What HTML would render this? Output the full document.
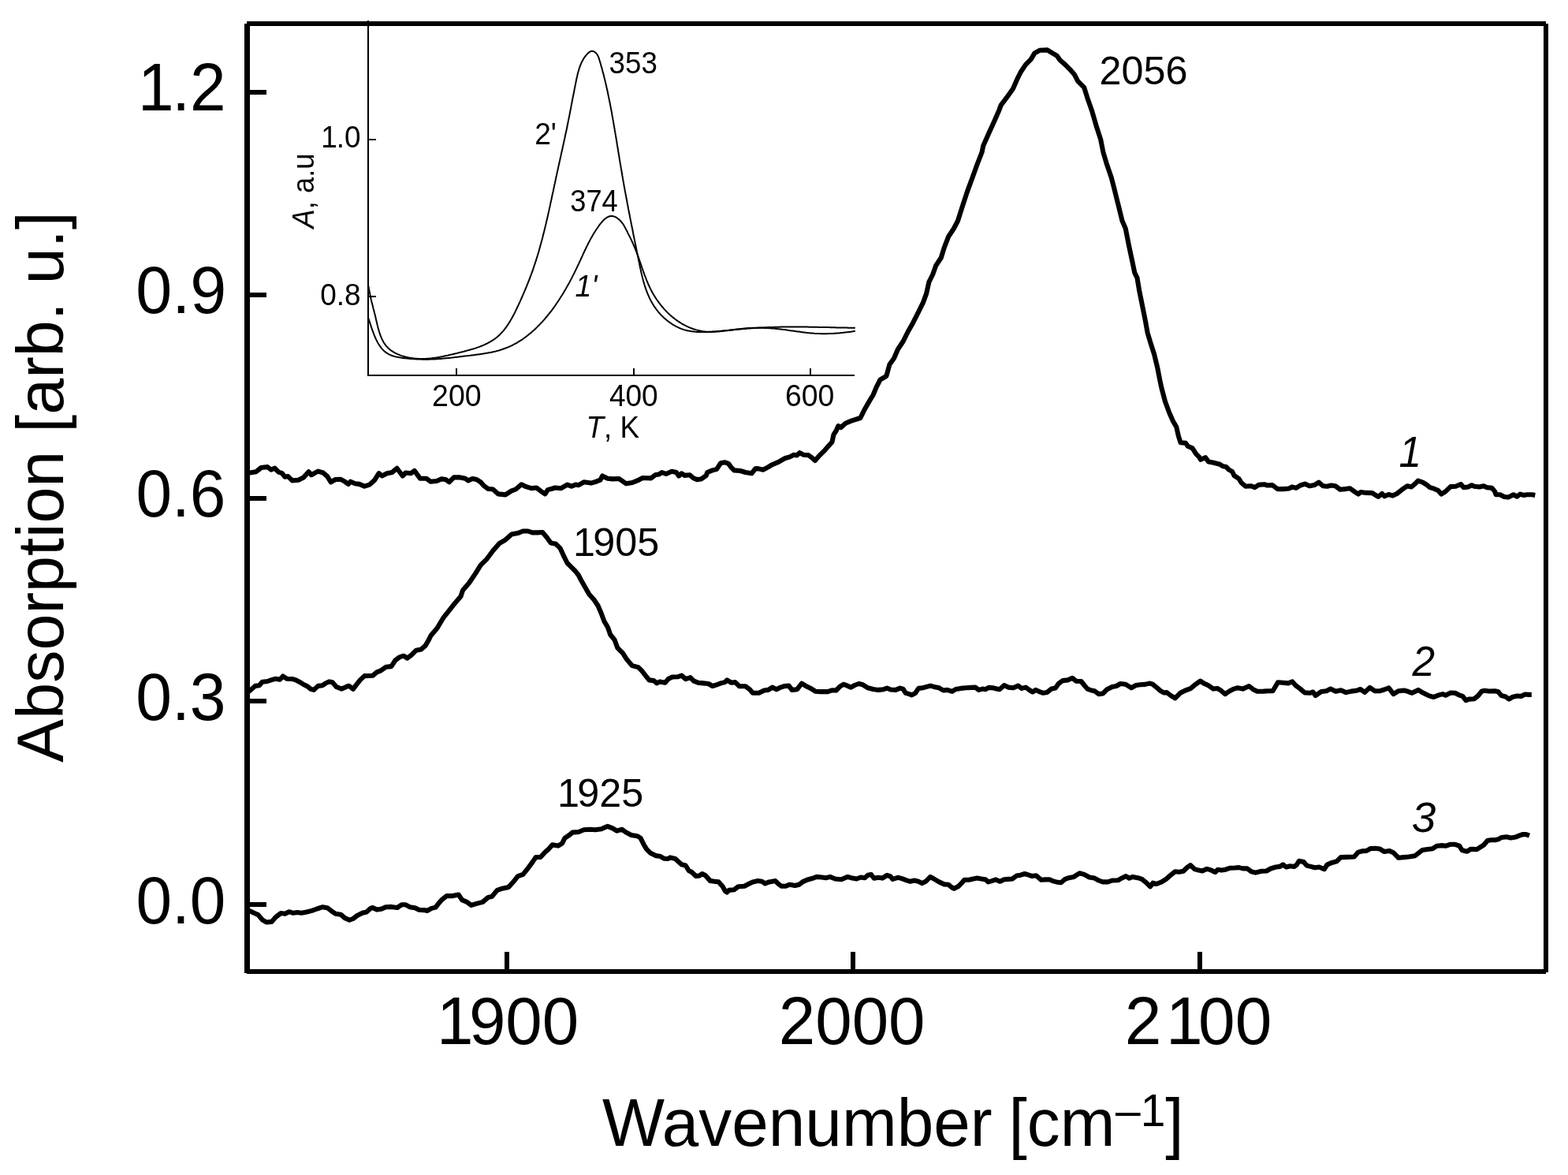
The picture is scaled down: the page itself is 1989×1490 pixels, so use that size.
<!DOCTYPE html>
<html lang="en"><head><meta charset="utf-8"><title>Absorption spectra</title>
<style>
html,body{margin:0;padding:0;background:#fff;}
body{width:1989px;height:1490px;overflow:hidden;}
svg{display:block;}
text{font-family:"Liberation Sans",sans-serif;fill:#000;}
.t83{font-size:83px;}
.t54s{font-size:54px;}
.t37{font-size:37.5px;}
.t48{font-size:50px;}
.t52{font-size:54px;font-style:italic;}
.it{font-style:italic;}
.main{fill:none;stroke:#000;stroke-width:6.1;stroke-linejoin:round;stroke-linecap:butt;}
.ins{fill:none;stroke:#000;stroke-width:2;stroke-linejoin:round;}
</style></head><body>
<svg width="1989" height="1490" viewBox="0 0 1989 1490">
<rect x="0" y="0" width="1989" height="1490" fill="#fff"/>

<g fill="#000" shape-rendering="crispEdges">
<rect x="310" y="30" width="7" height="1203.5"/>
<rect x="313" y="27" width="1648" height="6"/>
<rect x="1958" y="30" width="6" height="1203"/>
<rect x="313" y="1229" width="1648" height="6"/>
<rect x="317" y="114" width="21" height="6"/>
<rect x="317" y="371" width="21" height="6"/>
<rect x="317" y="629" width="21" height="6"/>
<rect x="317" y="886" width="21" height="6"/>
<rect x="317" y="1144" width="21" height="6"/>
<rect x="640" y="1207" width="6" height="22"/>
<rect x="1079" y="1207" width="6" height="22"/>
<rect x="1518.5" y="1207" width="6" height="22"/>
<rect x="466" y="26" width="2" height="451"/>
<rect x="466" y="475" width="618" height="2"/>
<rect x="468" y="176" width="9" height="2"/>
<rect x="468" y="375" width="9" height="2"/>
<rect x="578" y="467" width="2" height="8"/>
<rect x="803" y="467" width="2" height="8"/>
<rect x="1027" y="467" width="2" height="8"/>
</g>
<path class="ins" d="M467.6,363.1 L467.8,364.6 L468.0,366.0 L468.3,367.5 L468.5,369.0 L468.8,370.5 L469.1,372.0 L469.4,373.4 L469.7,374.9 L470.0,376.4 L470.3,377.8 L470.6,379.3 L471.0,380.8 L471.3,382.2 L471.7,383.7 L472.1,385.1 L472.4,386.6 L472.8,388.1 L473.2,389.5 L473.5,391.0 L473.9,392.4 L474.3,393.9 L474.7,395.3 L475.0,396.8 L475.4,398.2 L475.8,399.7 L476.1,401.1 L476.5,402.6 L476.8,404.1 L477.1,405.5 L477.5,407.0 L477.8,408.5 L478.2,409.9 L478.5,411.4 L478.9,412.8 L479.2,414.3 L479.6,415.8 L480.0,417.2 L480.4,418.6 L480.8,420.1 L481.3,421.5 L481.7,422.9 L482.2,424.4 L482.8,425.8 L483.3,427.2 L483.9,428.6 L484.5,429.9 L485.2,431.3 L485.9,432.6 L486.6,433.9 L487.4,435.2 L488.2,436.4 L489.1,437.6 L490.1,438.8 L491.1,439.9 L492.1,441.0 L493.2,442.1 L494.3,443.0 L495.5,444.0 L496.7,444.9 L498.0,445.7 L499.2,446.5 L500.5,447.2 L501.9,448.0 L503.2,448.6 L504.6,449.2 L505.9,449.8 L507.4,450.4 L508.8,450.9 L510.2,451.4 L511.6,451.8 L513.1,452.2 L514.5,452.6 L516.0,452.9 L517.5,453.3 L518.9,453.6 L520.4,453.8 L521.9,454.0 L523.4,454.2 L524.9,454.4 L526.4,454.6 L527.9,454.7 L529.4,454.8 L530.9,454.9 L532.4,454.9 L533.9,455.0 L535.4,455.0 L536.9,454.9 L538.4,454.9 L539.9,454.9 L541.4,454.8 L542.9,454.7 L544.4,454.6 L545.9,454.4 L547.4,454.3 L548.8,454.1 L550.3,453.9 L551.8,453.7 L553.3,453.5 L554.8,453.3 L556.3,453.0 L557.8,452.8 L559.2,452.5 L560.7,452.2 L562.2,451.9 L563.6,451.6 L565.1,451.3 L566.6,451.0 L568.0,450.7 L569.5,450.3 L571.0,450.0 L572.4,449.6 L573.9,449.3 L575.4,448.9 L576.8,448.6 L578.3,448.2 L579.7,447.9 L581.2,447.5 L582.6,447.1 L584.1,446.8 L585.6,446.4 L587.0,446.1 L588.5,445.7 L589.9,445.3 L591.4,444.9 L592.8,444.5 L594.3,444.1 L595.7,443.7 L597.2,443.3 L598.6,442.9 L600.0,442.5 L601.5,442.0 L602.9,441.6 L604.3,441.1 L605.8,440.6 L607.2,440.1 L608.6,439.6 L610.0,439.0 L611.4,438.5 L612.8,437.9 L614.1,437.3 L615.5,436.7 L616.9,436.0 L618.2,435.4 L619.5,434.7 L620.9,434.0 L622.2,433.2 L623.5,432.4 L624.7,431.6 L626.0,430.8 L627.2,430.0 L628.4,429.1 L629.6,428.2 L630.8,427.2 L631.9,426.2 L633.0,425.2 L634.1,424.2 L635.2,423.1 L636.2,422.0 L637.2,420.9 L638.2,419.8 L639.2,418.6 L640.1,417.5 L641.0,416.3 L641.9,415.1 L642.8,413.9 L643.6,412.6 L644.5,411.4 L645.3,410.1 L646.1,408.8 L646.9,407.6 L647.6,406.3 L648.4,405.0 L649.1,403.7 L649.9,402.3 L650.6,401.0 L651.3,399.7 L652.0,398.4 L652.7,397.0 L653.4,395.7 L654.0,394.3 L654.7,393.0 L655.3,391.6 L656.0,390.3 L656.6,388.9 L657.2,387.6 L657.9,386.2 L658.5,384.8 L659.1,383.5 L659.8,382.1 L660.4,380.7 L661.0,379.4 L661.6,378.0 L662.2,376.6 L662.8,375.2 L663.4,373.9 L664.0,372.5 L664.6,371.1 L665.2,369.7 L665.8,368.4 L666.4,367.0 L666.9,365.6 L667.5,364.2 L668.1,362.8 L668.6,361.4 L669.2,360.0 L669.8,358.6 L670.3,357.2 L670.9,355.8 L671.4,354.4 L672.0,353.0 L672.5,351.6 L673.0,350.2 L673.5,348.8 L674.1,347.4 L674.6,346.0 L675.1,344.6 L675.6,343.2 L676.1,341.8 L676.6,340.3 L677.1,338.9 L677.5,337.5 L678.0,336.1 L678.5,334.6 L679.0,333.2 L679.4,331.8 L679.9,330.4 L680.3,328.9 L680.8,327.5 L681.2,326.1 L681.7,324.6 L682.1,323.2 L682.5,321.7 L683.0,320.3 L683.4,318.9 L683.8,317.4 L684.2,316.0 L684.6,314.5 L685.0,313.1 L685.4,311.6 L685.8,310.2 L686.2,308.7 L686.6,307.3 L687.0,305.8 L687.4,304.4 L687.8,302.9 L688.2,301.5 L688.5,300.0 L688.9,298.6 L689.3,297.1 L689.6,295.7 L690.0,294.2 L690.4,292.8 L690.7,291.3 L691.1,289.8 L691.4,288.4 L691.8,286.9 L692.1,285.4 L692.5,284.0 L692.8,282.5 L693.2,281.1 L693.5,279.6 L693.9,278.1 L694.2,276.7 L694.5,275.2 L694.9,273.7 L695.2,272.3 L695.5,270.8 L695.8,269.4 L696.2,267.9 L696.5,266.4 L696.8,264.9 L697.1,263.5 L697.5,262.0 L697.8,260.6 L698.1,259.1 L698.4,257.6 L698.7,256.1 L699.0,254.7 L699.4,253.2 L699.7,251.7 L700.0,250.3 L700.3,248.8 L700.6,247.3 L700.9,245.9 L701.2,244.4 L701.6,242.9 L701.9,241.5 L702.2,240.0 L702.5,238.5 L702.8,237.1 L703.1,235.6 L703.4,234.1 L703.8,232.7 L704.1,231.2 L704.4,229.7 L704.7,228.2 L705.0,226.8 L705.3,225.3 L705.6,223.8 L706.0,222.4 L706.3,220.9 L706.6,219.4 L706.9,218.0 L707.2,216.5 L707.6,215.0 L707.9,213.6 L708.2,212.1 L708.5,210.6 L708.9,209.2 L709.2,207.7 L709.5,206.2 L709.8,204.8 L710.2,203.3 L710.5,201.8 L710.8,200.4 L711.1,198.9 L711.5,197.4 L711.8,196.0 L712.1,194.5 L712.4,193.0 L712.8,191.6 L713.1,190.1 L713.4,188.6 L713.7,187.2 L714.0,185.7 L714.4,184.2 L714.7,182.8 L715.0,181.3 L715.3,179.8 L715.6,178.4 L716.0,176.9 L716.3,175.4 L716.6,174.0 L716.9,172.5 L717.2,171.0 L717.5,169.6 L717.9,168.1 L718.2,166.6 L718.5,165.2 L718.8,163.7 L719.1,162.2 L719.4,160.7 L719.7,159.3 L720.0,157.8 L720.3,156.3 L720.6,154.9 L720.9,153.4 L721.2,151.9 L721.5,150.4 L721.8,149.0 L722.1,147.5 L722.4,146.0 L722.6,144.6 L722.9,143.1 L723.2,141.6 L723.5,140.1 L723.8,138.7 L724.1,137.2 L724.4,135.7 L724.6,134.2 L724.9,132.8 L725.2,131.3 L725.5,129.8 L725.8,128.3 L726.1,126.8 L726.3,125.4 L726.6,123.9 L726.9,122.4 L727.2,121.0 L727.5,119.5 L727.8,118.0 L728.1,116.5 L728.4,115.1 L728.6,113.6 L728.9,112.1 L729.2,110.6 L729.5,109.2 L729.8,107.7 L730.1,106.2 L730.4,104.8 L730.7,103.3 L731.0,101.8 L731.3,100.3 L731.6,98.9 L732.0,97.4 L732.3,95.9 L732.6,94.5 L733.0,93.0 L733.4,91.6 L733.8,90.1 L734.2,88.7 L734.6,87.2 L735.1,85.8 L735.6,84.4 L736.1,83.0 L736.7,81.6 L737.3,80.2 L737.9,78.8 L738.6,77.5 L739.3,76.2 L740.0,74.9 L740.8,73.6 L741.7,72.4 L742.6,71.2 L743.5,70.0 L744.5,68.9 L745.6,67.8 L746.7,66.8 L747.9,65.9 L749.2,65.2 L750.6,64.8 L752.1,64.9 L753.5,65.4 L754.8,66.2 L755.9,67.2 L756.9,68.3 L757.8,69.5 L758.5,70.9 L759.1,72.2 L759.6,73.6 L760.1,75.1 L760.5,76.5 L761.0,77.9 L761.4,79.4 L761.8,80.8 L762.2,82.3 L762.6,83.7 L763.0,85.2 L763.5,86.6 L763.9,88.0 L764.2,89.5 L764.6,90.9 L765.0,92.4 L765.4,93.8 L765.8,95.3 L766.1,96.8 L766.5,98.2 L766.9,99.7 L767.2,101.1 L767.6,102.6 L767.9,104.0 L768.3,105.5 L768.6,107.0 L769.0,108.4 L769.3,109.9 L769.6,111.4 L770.0,112.8 L770.3,114.3 L770.6,115.8 L770.9,117.2 L771.2,118.7 L771.5,120.2 L771.8,121.6 L772.1,123.1 L772.4,124.6 L772.7,126.1 L773.0,127.5 L773.3,129.0 L773.6,130.5 L773.9,131.9 L774.2,133.4 L774.5,134.9 L774.7,136.4 L775.0,137.8 L775.3,139.3 L775.6,140.8 L775.8,142.3 L776.1,143.8 L776.4,145.2 L776.6,146.7 L776.9,148.2 L777.2,149.7 L777.4,151.2 L777.7,152.6 L778.0,154.1 L778.2,155.6 L778.5,157.1 L778.7,158.5 L779.0,160.0 L779.2,161.5 L779.5,163.0 L779.7,164.5 L780.0,165.9 L780.2,167.4 L780.5,168.9 L780.7,170.4 L781.0,171.9 L781.2,173.3 L781.5,174.8 L781.7,176.3 L782.0,177.8 L782.2,179.3 L782.5,180.8 L782.7,182.2 L782.9,183.7 L783.2,185.2 L783.4,186.7 L783.7,188.2 L783.9,189.7 L784.1,191.1 L784.4,192.6 L784.6,194.1 L784.9,195.6 L785.1,197.1 L785.4,198.6 L785.6,200.0 L785.8,201.5 L786.1,203.0 L786.3,204.5 L786.6,206.0 L786.8,207.4 L787.1,208.9 L787.3,210.4 L787.6,211.9 L787.8,213.4 L788.1,214.8 L788.3,216.3 L788.6,217.8 L788.8,219.3 L789.1,220.8 L789.3,222.2 L789.6,223.7 L789.8,225.2 L790.1,226.7 L790.3,228.2 L790.6,229.7 L790.9,231.1 L791.1,232.6 L791.4,234.1 L791.6,235.6 L791.9,237.0 L792.2,238.5 L792.5,240.0 L792.7,241.5 L793.0,242.9 L793.3,244.4 L793.5,245.9 L793.8,247.4 L794.1,248.9 L794.4,250.3 L794.6,251.8 L794.9,253.3 L795.2,254.8 L795.5,256.2 L795.7,257.7 L796.0,259.2 L796.3,260.7 L796.6,262.1 L796.9,263.6 L797.1,265.1 L797.4,266.6 L797.7,268.0 L798.0,269.5 L798.3,271.0 L798.6,272.5 L798.9,273.9 L799.1,275.4 L799.4,276.9 L799.7,278.4 L800.0,279.8 L800.3,281.3 L800.6,282.8 L800.9,284.2 L801.2,285.7 L801.5,287.2 L801.8,288.7 L802.1,290.1 L802.4,291.6 L802.6,293.1 L803.0,294.6 L803.2,296.0 L803.5,297.5 L803.8,299.0 L804.1,300.4 L804.4,301.9 L804.7,303.4 L805.0,304.9 L805.3,306.3 L805.6,307.8 L805.9,309.3 L806.2,310.8 L806.5,312.2 L806.8,313.7 L807.1,315.2 L807.4,316.6 L807.7,318.1 L808.0,319.6 L808.3,321.1 L808.6,322.5 L808.9,324.0 L809.2,325.5 L809.5,326.9 L809.8,328.4 L810.1,329.9 L810.4,331.4 L810.7,332.8 L811.0,334.3 L811.3,335.8 L811.6,337.2 L811.9,338.7 L812.2,340.2 L812.6,341.6 L812.9,343.1 L813.2,344.6 L813.5,346.0 L813.9,347.5 L814.2,349.0 L814.6,350.4 L815.0,351.9 L815.3,353.3 L815.7,354.8 L816.1,356.2 L816.5,357.7 L816.9,359.1 L817.3,360.6 L817.8,362.0 L818.2,363.4 L818.7,364.9 L819.2,366.3 L819.7,367.7 L820.2,369.1 L820.7,370.5 L821.3,371.9 L821.9,373.3 L822.5,374.7 L823.1,376.1 L823.7,377.4 L824.3,378.8 L825.0,380.1 L825.7,381.4 L826.4,382.8 L827.2,384.1 L827.9,385.4 L828.7,386.6 L829.5,387.9 L830.3,389.2 L831.2,390.4 L832.1,391.6 L833.0,392.8 L833.9,394.0 L834.8,395.2 L835.8,396.3 L836.8,397.5 L837.8,398.6 L838.8,399.7 L839.9,400.7 L840.9,401.8 L842.0,402.8 L843.1,403.8 L844.3,404.8 L845.4,405.8 L846.6,406.7 L847.8,407.6 L849.0,408.6 L850.2,409.4 L851.5,410.3 L852.7,411.1 L854.0,411.9 L855.3,412.6 L856.6,413.4 L857.9,414.1 L859.3,414.7 L860.6,415.4 L862.0,416.0 L863.4,416.6 L864.8,417.1 L866.2,417.6 L867.6,418.1 L869.1,418.5 L870.5,418.9 L872.0,419.2 L873.5,419.6 L874.9,419.8 L876.4,420.1 L877.9,420.3 L879.4,420.5 L880.9,420.6 L882.4,420.8 L883.9,420.9 L885.4,421.0 L886.9,421.0 L888.4,421.1 L889.9,421.1 L891.4,421.1 L892.9,421.1 L894.4,421.0 L895.9,421.0 L897.4,420.9 L898.9,420.9 L900.4,420.8 L901.9,420.7 L903.4,420.6 L904.9,420.5 L906.4,420.4 L907.9,420.2 L909.4,420.1 L910.9,420.0 L912.4,419.9 L913.9,419.7 L915.3,419.6 L916.8,419.4 L918.3,419.3 L919.8,419.2 L921.3,419.1 L922.8,418.9 L924.3,418.8 L925.8,418.6 L927.3,418.5 L928.8,418.4 L930.3,418.2 L931.8,418.1 L933.3,417.9 L934.8,417.8 L936.3,417.7 L937.8,417.5 L939.3,417.4 L940.8,417.3 L942.3,417.1 L943.8,417.0 L945.3,416.9 L946.8,416.8 L948.2,416.6 L949.8,416.5 L951.2,416.4 L952.7,416.3 L954.2,416.2 L955.7,416.1 L957.2,416.0 L958.7,415.9 L960.2,415.8 L961.7,415.7 L963.2,415.6 L964.7,415.5 L966.2,415.4 L967.7,415.4 L969.2,415.3 L970.7,415.2 L972.2,415.2 L973.7,415.1 L975.2,415.1 L976.7,415.0 L978.2,414.9 L979.7,414.9 L981.2,414.9 L982.7,414.8 L984.2,414.8 L985.7,414.7 L987.2,414.7 L988.8,414.7 L990.2,414.6 L991.8,414.6 L993.2,414.6 L994.8,414.6 L996.2,414.6 L997.8,414.6 L999.3,414.5 L1000.8,414.5 L1002.3,414.5 L1003.8,414.5 L1005.3,414.5 L1006.8,414.5 L1008.3,414.5 L1009.8,414.5 L1011.3,414.5 L1012.8,414.5 L1014.3,414.5 L1015.8,414.6 L1017.3,414.6 L1018.8,414.6 L1020.3,414.6 L1021.8,414.6 L1023.3,414.6 L1024.8,414.6 L1026.3,414.7 L1027.8,414.7 L1029.3,414.7 L1030.8,414.7 L1032.3,414.8 L1033.8,414.8 L1035.3,414.8 L1036.8,414.8 L1038.3,414.9 L1039.8,414.9 L1041.3,414.9 L1042.8,415.0 L1044.3,415.0 L1045.8,415.0 L1047.3,415.1 L1048.8,415.1 L1050.3,415.1 L1051.8,415.1 L1053.3,415.2 L1054.8,415.2 L1056.3,415.2 L1057.8,415.3 L1059.3,415.3 L1060.8,415.4 L1062.3,415.4 L1063.8,415.4 L1065.3,415.4 L1066.8,415.5 L1068.3,415.5 L1069.8,415.5 L1071.3,415.6 L1072.8,415.6 L1074.3,415.6 L1075.8,415.7 L1077.3,415.7 L1078.8,415.7 L1080.3,415.7 L1081.8,415.8 L1083.3,415.8 L1084.8,415.8"/>
<path class="ins" d="M467.0,402.7 L467.5,404.1 L468.0,405.6 L468.5,407.0 L468.9,408.4 L469.4,409.9 L469.9,411.3 L470.3,412.7 L470.8,414.1 L471.3,415.6 L471.8,417.0 L472.2,418.4 L472.8,419.8 L473.3,421.2 L473.8,422.6 L474.3,424.0 L474.9,425.4 L475.5,426.8 L476.1,428.2 L476.7,429.6 L477.3,430.9 L478.0,432.2 L478.7,433.6 L479.4,434.9 L480.2,436.2 L481.0,437.4 L481.8,438.7 L482.7,439.9 L483.6,441.1 L484.6,442.3 L485.6,443.4 L486.6,444.4 L487.7,445.4 L488.9,446.4 L490.1,447.3 L491.4,448.1 L492.6,448.9 L494.0,449.6 L495.4,450.2 L496.7,450.7 L498.1,451.2 L499.6,451.7 L501.0,452.1 L502.5,452.5 L503.9,452.8 L505.4,453.1 L506.9,453.3 L508.4,453.6 L509.9,453.8 L511.4,454.0 L512.9,454.2 L514.3,454.3 L515.8,454.5 L517.3,454.6 L518.8,454.8 L520.3,454.9 L521.8,455.0 L523.3,455.1 L524.8,455.2 L526.3,455.3 L527.8,455.4 L529.3,455.5 L530.8,455.5 L532.3,455.6 L533.8,455.6 L535.3,455.7 L536.8,455.7 L538.3,455.7 L539.8,455.7 L541.3,455.7 L542.8,455.7 L544.3,455.7 L545.8,455.6 L547.3,455.6 L548.8,455.5 L550.3,455.4 L551.8,455.4 L553.3,455.3 L554.8,455.2 L556.3,455.1 L557.8,455.0 L559.3,454.9 L560.8,454.7 L562.3,454.6 L563.8,454.5 L565.3,454.3 L566.8,454.2 L568.2,454.0 L569.8,453.9 L571.2,453.7 L572.7,453.6 L574.2,453.4 L575.7,453.2 L577.2,453.0 L578.7,452.9 L580.2,452.7 L581.7,452.5 L583.2,452.3 L584.6,452.2 L586.1,452.0 L587.6,451.8 L589.1,451.6 L590.6,451.4 L592.1,451.3 L593.6,451.1 L595.1,450.9 L596.6,450.8 L598.1,450.6 L599.6,450.4 L601.0,450.2 L602.5,450.0 L604.0,449.8 L605.5,449.6 L607.0,449.4 L608.5,449.2 L610.0,449.0 L611.5,448.8 L612.9,448.6 L614.4,448.3 L615.9,448.1 L617.4,447.8 L618.9,447.6 L620.3,447.3 L621.8,447.0 L623.3,446.7 L624.7,446.4 L626.2,446.1 L627.7,445.7 L629.1,445.4 L630.6,445.0 L632.0,444.6 L633.5,444.2 L634.9,443.7 L636.3,443.3 L637.8,442.8 L639.2,442.3 L640.6,441.8 L642.0,441.3 L643.4,440.7 L644.8,440.1 L646.1,439.6 L647.5,438.9 L648.9,438.3 L650.2,437.6 L651.5,436.9 L652.9,436.2 L654.2,435.5 L655.5,434.8 L656.8,434.0 L658.1,433.2 L659.4,432.4 L660.6,431.6 L661.9,430.8 L663.1,430.0 L664.3,429.1 L665.6,428.2 L666.8,427.3 L668.0,426.4 L669.1,425.5 L670.3,424.6 L671.5,423.6 L672.6,422.7 L673.8,421.7 L674.9,420.7 L676.0,419.7 L677.2,418.7 L678.3,417.7 L679.4,416.7 L680.5,415.6 L681.5,414.6 L682.6,413.5 L683.6,412.5 L684.7,411.4 L685.7,410.3 L686.7,409.2 L687.8,408.1 L688.8,407.0 L689.8,405.9 L690.8,404.8 L691.7,403.6 L692.7,402.5 L693.7,401.3 L694.6,400.2 L695.6,399.0 L696.5,397.8 L697.4,396.6 L698.4,395.5 L699.3,394.3 L700.2,393.1 L701.1,391.9 L702.0,390.7 L702.9,389.4 L703.7,388.2 L704.6,387.0 L705.4,385.8 L706.3,384.5 L707.1,383.3 L708.0,382.0 L708.8,380.8 L709.6,379.5 L710.4,378.3 L711.2,377.0 L712.0,375.7 L712.8,374.5 L713.6,373.2 L714.4,371.9 L715.2,370.6 L715.9,369.3 L716.7,368.0 L717.5,366.7 L718.2,365.4 L718.9,364.1 L719.7,362.8 L720.4,361.5 L721.1,360.2 L721.9,358.9 L722.6,357.6 L723.3,356.2 L724.0,354.9 L724.7,353.6 L725.4,352.2 L726.0,350.9 L726.7,349.6 L727.4,348.2 L728.1,346.9 L728.8,345.6 L729.4,344.2 L730.1,342.9 L730.7,341.5 L731.4,340.2 L732.0,338.8 L732.7,337.4 L733.3,336.1 L734.0,334.7 L734.6,333.4 L735.2,332.0 L735.9,330.6 L736.5,329.3 L737.1,327.9 L737.7,326.6 L738.4,325.2 L739.0,323.8 L739.6,322.5 L740.2,321.1 L740.9,319.8 L741.5,318.4 L742.1,317.0 L742.8,315.7 L743.5,314.3 L744.1,313.0 L744.8,311.6 L745.4,310.3 L746.1,308.9 L746.8,307.6 L747.5,306.3 L748.2,304.9 L748.9,303.6 L749.6,302.3 L750.4,301.0 L751.1,299.7 L751.8,298.4 L752.6,297.1 L753.4,295.8 L754.2,294.5 L755.0,293.3 L755.8,292.0 L756.6,290.8 L757.5,289.5 L758.3,288.3 L759.2,287.1 L760.0,285.8 L760.9,284.6 L761.9,283.4 L762.8,282.3 L763.8,281.1 L764.8,280.0 L765.8,279.0 L766.9,277.9 L768.1,277.0 L769.3,276.1 L770.6,275.3 L772.0,274.7 L773.4,274.2 L774.9,274.0 L776.4,274.0 L777.9,274.2 L779.3,274.6 L780.7,275.2 L782.0,275.9 L783.2,276.8 L784.4,277.7 L785.6,278.6 L786.6,279.7 L787.7,280.8 L788.6,281.9 L789.6,283.1 L790.4,284.3 L791.2,285.6 L792.0,286.9 L792.7,288.2 L793.4,289.5 L794.1,290.9 L794.8,292.2 L795.5,293.5 L796.1,294.9 L796.8,296.2 L797.5,297.6 L798.2,298.9 L798.9,300.2 L799.5,301.6 L800.2,302.9 L800.8,304.3 L801.5,305.6 L802.1,307.0 L802.7,308.4 L803.3,309.7 L803.9,311.1 L804.5,312.5 L805.1,313.9 L805.7,315.3 L806.2,316.6 L806.8,318.1 L807.3,319.4 L807.9,320.9 L808.4,322.3 L808.9,323.7 L809.4,325.1 L809.9,326.5 L810.4,327.9 L810.9,329.3 L811.4,330.8 L811.9,332.2 L812.4,333.6 L812.9,335.0 L813.3,336.4 L813.8,337.8 L814.3,339.3 L814.8,340.7 L815.3,342.1 L815.8,343.5 L816.3,344.9 L816.8,346.3 L817.3,347.8 L817.8,349.2 L818.4,350.6 L818.9,352.0 L819.5,353.4 L820.0,354.8 L820.6,356.1 L821.1,357.5 L821.7,358.9 L822.3,360.3 L822.9,361.7 L823.6,363.0 L824.2,364.4 L824.9,365.7 L825.5,367.1 L826.2,368.4 L826.9,369.7 L827.6,371.1 L828.4,372.4 L829.1,373.7 L829.9,374.9 L830.7,376.2 L831.5,377.5 L832.3,378.8 L833.1,380.0 L834.0,381.2 L834.9,382.4 L835.8,383.7 L836.7,384.9 L837.6,386.1 L838.5,387.2 L839.5,388.4 L840.4,389.5 L841.4,390.7 L842.4,391.8 L843.4,392.9 L844.5,394.0 L845.5,395.1 L846.5,396.1 L847.6,397.2 L848.7,398.2 L849.8,399.2 L850.9,400.2 L852.1,401.2 L853.2,402.2 L854.4,403.1 L855.6,404.1 L856.8,405.0 L858.0,405.9 L859.2,406.7 L860.4,407.6 L861.7,408.4 L862.9,409.2 L864.2,410.0 L865.5,410.8 L866.8,411.5 L868.1,412.2 L869.5,412.9 L870.8,413.6 L872.2,414.2 L873.5,414.8 L874.9,415.4 L876.3,416.0 L877.7,416.5 L879.1,417.0 L880.5,417.5 L882.0,417.9 L883.4,418.4 L884.9,418.8 L886.3,419.1 L887.8,419.4 L889.3,419.7 L890.7,420.0 L892.2,420.2 L893.7,420.4 L895.2,420.6 L896.7,420.7 L898.2,420.8 L899.7,420.8 L901.2,420.9 L902.7,420.9 L904.2,420.8 L905.7,420.8 L907.2,420.7 L908.7,420.6 L910.2,420.6 L911.7,420.4 L913.2,420.3 L914.7,420.1 L916.2,420.0 L917.7,419.8 L919.1,419.6 L920.6,419.4 L922.1,419.3 L923.6,419.1 L925.1,418.9 L926.6,418.6 L928.1,418.4 L929.6,418.2 L931.0,418.0 L932.5,417.8 L934.0,417.6 L935.5,417.4 L937.0,417.2 L938.5,417.1 L940.0,416.9 L941.5,416.7 L943.0,416.6 L944.5,416.4 L946.0,416.3 L947.5,416.2 L949.0,416.1 L950.5,416.0 L951.9,415.9 L953.4,415.9 L954.9,415.8 L956.4,415.8 L957.9,415.7 L959.4,415.7 L960.9,415.7 L962.5,415.7 L964.0,415.7 L965.5,415.7 L967.0,415.8 L968.5,415.8 L970.0,415.9 L971.5,415.9 L972.9,416.0 L974.4,416.1 L975.9,416.2 L977.4,416.3 L978.9,416.4 L980.4,416.5 L981.9,416.6 L983.4,416.8 L984.9,416.9 L986.4,417.1 L987.9,417.2 L989.4,417.4 L990.9,417.6 L992.4,417.8 L993.9,417.9 L995.4,418.1 L996.8,418.3 L998.3,418.5 L999.8,418.8 L1001.3,418.9 L1002.8,419.2 L1004.3,419.4 L1005.8,419.6 L1007.2,419.8 L1008.7,420.0 L1010.2,420.2 L1011.7,420.4 L1013.2,420.6 L1014.7,420.8 L1016.2,421.0 L1017.6,421.2 L1019.1,421.4 L1020.6,421.6 L1022.1,421.8 L1023.6,421.9 L1025.1,422.1 L1026.6,422.2 L1028.1,422.4 L1029.6,422.5 L1031.1,422.6 L1032.6,422.8 L1034.1,422.9 L1035.6,422.9 L1037.1,423.0 L1038.6,423.1 L1040.1,423.1 L1041.6,423.2 L1043.1,423.2 L1044.6,423.2 L1046.1,423.2 L1047.6,423.2 L1049.1,423.2 L1050.6,423.1 L1052.1,423.1 L1053.6,423.0 L1055.1,423.0 L1056.6,422.9 L1058.1,422.8 L1059.6,422.7 L1061.1,422.6 L1062.6,422.5 L1064.0,422.4 L1065.5,422.2 L1067.0,422.1 L1068.5,422.0 L1070.0,421.8 L1071.5,421.6 L1073.0,421.5 L1074.5,421.3 L1076.0,421.1 L1077.5,420.9 L1079.0,420.7 L1080.5,420.6 L1081.9,420.3 L1083.4,420.1 L1084.9,419.9"/>
<path class="main" d="M313.5,599.8 L317.0,599.5 L324.9,598.2 L331.4,593.0 L339.3,592.1 L343.8,595.6 L348.4,593.7 L353.7,598.9 L357.6,599.9 L361.5,604.8 L365.4,604.1 L370.7,609.4 L378.5,608.7 L385.1,605.4 L391.6,598.2 L394.9,602.2 L403.4,597.6 L409.9,599.5 L415.2,604.1 L419.7,611.3 L425.6,608.0 L432.2,607.8 L437.4,610.7 L442.0,613.9 L444.6,610.7 L450.5,613.3 L455.7,613.9 L462.3,616.6 L468.8,614.6 L475.3,608.7 L480.6,600.2 L484.5,603.5 L491.0,600.2 L497.6,598.9 L503.5,593.7 L510.7,603.5 L514.6,599.5 L521.1,600.2 L525.7,596.9 L532.9,606.7 L540.8,606.7 L546.0,610.7 L553.9,610.0 L560.0,607.4 L565.2,608.0 L569.8,611.3 L575.7,605.4 L583.6,605.4 L590.1,606.7 L594.0,609.4 L599.3,607.0 L604.5,608.0 L609.7,611.3 L613.7,615.9 L618.9,619.8 L625.4,620.5 L632.0,626.4 L641.1,627.4 L649.0,622.4 L654.2,620.5 L661.4,614.3 L667.3,617.2 L673.8,619.2 L680.4,618.5 L685.6,622.4 L691.5,626.4 L694.8,621.1 L700.0,619.8 L703.9,618.5 L711.8,619.2 L719.6,614.6 L724.9,616.6 L730.1,614.6 L734.0,615.2 L740.6,611.3 L749.7,612.6 L756.3,610.7 L761.5,608.7 L764.1,603.5 L770.7,606.7 L777.2,607.4 L785.1,607.0 L794.2,613.3 L802.1,612.0 L808.6,609.4 L815.2,606.1 L820.0,606.2 L825.9,606.4 L831.1,602.3 L835.7,601.6 L839.6,599.0 L844.9,601.0 L852.1,597.7 L857.9,599.0 L861.2,603.6 L864.5,600.3 L868.4,602.9 L875.0,602.3 L879.5,606.2 L884.1,608.1 L889.4,607.5 L895.9,602.9 L897.2,599.0 L903.7,596.4 L909.0,595.1 L914.2,587.2 L919.5,586.3 L924.0,587.9 L927.3,592.4 L931.2,596.4 L939.1,597.0 L945.6,599.0 L953.5,600.3 L958.1,594.4 L961.3,594.1 L967.9,595.7 L974.4,592.4 L979.6,589.2 L987.5,585.9 L995.3,581.3 L1001.9,579.4 L1007.1,576.7 L1011.0,577.4 L1014.3,574.1 L1018.9,576.7 L1025.4,577.1 L1029.4,580.0 L1033.9,583.9 L1038.5,578.7 L1045.1,572.2 L1050.3,566.3 L1055.5,560.4 L1057.5,551.2 L1060.8,546.0 L1063.4,540.1 L1066.7,542.1 L1072.6,536.8 L1080.0,533.6 L1091.4,530.0 L1097.0,518.7 L1103.5,507.4 L1107.5,501.0 L1111.5,491.3 L1116.4,481.7 L1124.4,476.8 L1128.4,462.3 L1134.1,454.3 L1138.9,443.0 L1145.4,433.3 L1151.8,420.5 L1158.2,409.2 L1164.7,396.3 L1171.1,383.4 L1175.2,372.1 L1178.4,357.6 L1183.2,348.0 L1187.2,336.7 L1193.7,327.0 L1197.7,314.2 L1203.3,299.7 L1209.8,290.0 L1215.0,280.0 L1220.6,262.3 L1227.0,242.9 L1233.5,225.2 L1239.9,207.5 L1245.6,193.0 L1247.2,185.0 L1254.4,168.8 L1260.9,154.4 L1267.3,139.9 L1269.7,133.4 L1277.0,123.7 L1285.0,112.5 L1289.9,101.2 L1294.7,91.5 L1301.1,81.9 L1307.6,75.4 L1312.4,67.4 L1318.8,63.8 L1328.5,63.4 L1335.0,67.4 L1340.6,70.6 L1344.6,76.2 L1351.1,81.9 L1357.5,88.3 L1363.1,94.8 L1367.2,102.8 L1375.2,110.9 L1379.2,123.7 L1384.9,139.9 L1390.5,159.2 L1396.2,176.9 L1399.4,193.0 L1404.2,209.1 L1409.8,225.2 L1413.9,241.3 L1418.7,260.6 L1423.5,280.0 L1427.7,289.6 L1432.1,311.9 L1436.6,332.8 L1439.3,345.9 L1442.5,352.4 L1445.1,368.1 L1449.1,387.8 L1453.0,407.4 L1455.6,421.8 L1459.5,434.9 L1464.1,449.3 L1468.1,465.7 L1471.4,482.7 L1473.4,491.9 L1477.9,508.9 L1483.2,523.3 L1487.8,533.7 L1492.3,541.6 L1495.0,553.4 L1497.6,561.2 L1504.1,561.9 L1506.7,565.8 L1512.6,568.4 L1517.2,575.6 L1521.1,579.5 L1523.1,582.8 L1529.0,580.2 L1532.9,585.4 L1539.5,586.7 L1547.3,588.7 L1551.2,591.3 L1555.2,592.0 L1559.1,595.9 L1563.0,597.9 L1565.6,603.1 L1571.5,607.0 L1574.8,612.3 L1580.0,616.8 L1586.6,616.2 L1591.8,618.1 L1596.4,614.9 L1603.6,614.2 L1607.5,615.5 L1614.0,615.1 L1620.6,620.1 L1628.4,620.1 L1635.0,619.5 L1638.9,617.5 L1644.1,618.8 L1649.4,615.5 L1655.3,613.6 L1661.1,616.2 L1667.7,614.9 L1672.9,611.6 L1678.2,616.2 L1683.4,616.8 L1688.6,615.5 L1693.9,616.2 L1700.0,620.8 L1706.5,620.1 L1712.4,619.2 L1718.3,623.4 L1722.9,626.6 L1726.2,624.0 L1732.7,624.9 L1740.6,625.1 L1745.1,628.0 L1748.4,629.9 L1753.0,626.0 L1756.3,629.3 L1761.5,627.0 L1766.7,628.6 L1772.0,626.0 L1778.5,620.8 L1785.1,616.2 L1790.3,617.5 L1794.9,613.6 L1798.8,609.6 L1804.7,611.6 L1809.9,614.9 L1813.8,618.1 L1819.1,619.7 L1824.3,622.1 L1828.2,626.6 L1833.5,623.4 L1840.0,617.1 L1846.6,616.8 L1853.1,614.0 L1856.4,618.1 L1862.3,617.5 L1866.8,615.3 L1870.1,616.8 L1876.7,617.5 L1881.9,616.2 L1885.8,618.1 L1892.4,618.8 L1896.3,623.4 L1897.6,627.3 L1902.8,627.3 L1908.1,629.9 L1913.3,630.6 L1919.8,627.3 L1924.4,629.7 L1928.3,626.6 L1932.9,628.0 L1936.8,627.3 L1943.4,627.3 L1947.3,628.0"/>
<path class="main" d="M313.5,878.8 L317.0,875.8 L323.6,869.9 L328.8,869.3 L332.7,864.7 L339.3,864.0 L344.5,862.1 L349.7,860.8 L355.0,861.8 L358.9,857.5 L364.1,860.8 L370.7,861.0 L374.6,862.1 L379.8,864.7 L385.1,868.0 L390.3,870.6 L394.2,873.8 L398.1,874.9 L403.4,869.9 L408.6,869.3 L413.8,866.0 L417.8,864.4 L421.7,865.3 L426.9,871.2 L433.5,873.6 L438.7,871.2 L442.6,869.7 L447.9,873.8 L451.8,868.6 L457.0,862.1 L462.3,857.1 L472.7,856.8 L478.0,852.3 L483.2,850.3 L489.7,845.7 L496.3,845.1 L501.5,837.2 L506.8,833.3 L512.0,831.7 L516.6,834.6 L521.1,831.3 L527.7,824.8 L534.2,823.5 L539.5,818.9 L543.4,812.3 L546.5,806.0 L554.4,796.8 L562.2,783.7 L569.4,774.6 L576.6,765.4 L584.5,756.3 L587.1,748.4 L595.0,739.3 L597.9,735.0 L603.2,727.1 L609.7,716.7 L617.6,708.8 L625.4,698.3 L633.3,689.2 L641.1,684.6 L649.0,677.4 L656.8,676.1 L663.4,673.5 L669.9,673.5 L675.2,675.4 L681.7,675.4 L688.2,675.0 L693.5,681.3 L698.7,688.5 L705.2,689.8 L710.5,695.1 L714.4,703.6 L719.6,714.0 L724.9,719.3 L730.1,724.5 L734.0,729.7 L736.7,735.0 L747.4,753.7 L753.3,760.2 L758.5,768.0 L762.5,777.2 L766.4,787.7 L771.0,795.5 L774.2,804.7 L779.5,811.2 L783.4,821.7 L789.9,828.2 L795.2,836.3 L801.8,844.1 L809.6,846.1 L814.2,850.7 L818.8,856.6 L823.4,862.4 L829.3,863.1 L833.2,866.4 L837.1,864.4 L843.7,865.7 L847.6,861.1 L852.8,858.5 L859.4,858.3 L864.6,856.6 L869.8,861.1 L875.7,859.2 L880.3,863.7 L885.5,865.7 L892.1,866.4 L898.6,867.0 L903.8,870.0 L909.1,868.3 L914.3,866.4 L919.5,865.1 L922.2,862.4 L927.4,865.7 L932.6,865.1 L937.9,870.3 L945.7,870.3 L951.0,874.2 L954.9,878.8 L962.7,878.8 L969.3,875.5 L974.5,874.9 L979.7,871.6 L985.0,874.2 L990.2,871.6 L995.4,870.0 L1000.7,869.6 L1004.6,874.9 L1011.1,874.2 L1017.0,866.6 L1022.9,870.3 L1029.5,873.6 L1034.7,876.8 L1041.2,877.1 L1050.0,877.1 L1055.2,875.3 L1060.5,875.5 L1065.7,870.3 L1070.3,867.7 L1074.9,869.6 L1079.4,871.6 L1084.0,869.0 L1089.3,867.0 L1094.5,868.3 L1101.0,872.3 L1107.6,874.0 L1114.1,874.9 L1120.7,874.2 L1125.2,872.6 L1129.8,874.5 L1136.4,874.9 L1141.6,872.6 L1145.5,873.6 L1148.8,878.8 L1153.4,880.1 L1156.6,881.4 L1161.2,878.8 L1165.2,872.9 L1170.4,872.3 L1175.6,870.9 L1180.2,869.6 L1184.8,870.9 L1191.3,872.3 L1196.6,875.5 L1201.8,874.9 L1207.7,876.8 L1212.3,874.0 L1218.8,872.9 L1225.3,872.3 L1231.9,871.9 L1237.1,871.6 L1241.7,874.9 L1246.3,873.6 L1250.2,874.2 L1254.1,871.9 L1259.4,872.3 L1263.3,873.2 L1267.9,874.2 L1273.8,869.0 L1279.0,871.6 L1285.5,872.3 L1291.4,869.6 L1296.0,872.9 L1301.2,871.6 L1306.5,875.5 L1310.0,877.5 L1313.9,874.9 L1317.9,876.8 L1323.1,878.8 L1328.3,877.9 L1333.6,873.6 L1338.8,872.6 L1342.7,867.0 L1347.9,863.1 L1354.5,862.4 L1360.4,859.8 L1365.0,863.7 L1371.5,864.0 L1375.4,869.0 L1379.4,873.6 L1384.6,875.5 L1388.5,876.2 L1393.7,880.1 L1399.0,879.5 L1404.2,874.2 L1410.8,870.9 L1416.0,870.0 L1421.2,867.0 L1427.8,867.7 L1435.0,872.3 L1440.9,869.0 L1446.1,868.3 L1452.6,867.9 L1457.9,866.6 L1461.8,867.4 L1467.0,871.6 L1472.3,876.2 L1476.2,878.4 L1480.1,878.1 L1485.3,882.1 L1490.6,885.3 L1497.1,878.8 L1503.7,875.5 L1510.2,873.2 L1516.8,867.7 L1522.6,863.5 L1527.2,866.6 L1532.5,869.0 L1539.0,873.6 L1544.2,872.9 L1549.5,876.2 L1554.0,880.1 L1559.9,876.2 L1565.2,873.6 L1570.0,872.3 L1576.5,873.6 L1584.4,870.0 L1589.6,874.2 L1594.9,876.8 L1602.7,876.6 L1607.9,876.2 L1614.5,876.2 L1621.0,865.3 L1627.6,865.7 L1634.1,866.4 L1639.4,864.4 L1643.3,869.0 L1648.5,872.9 L1655.1,878.4 L1661.6,878.8 L1665.5,877.5 L1668.8,882.1 L1676.0,877.1 L1682.5,876.2 L1687.8,873.6 L1694.3,876.8 L1700.9,875.3 L1707.4,878.1 L1713.9,876.6 L1720.5,875.8 L1725.7,874.0 L1731.0,877.9 L1737.5,871.9 L1744.0,876.2 L1750.6,876.2 L1755.8,874.5 L1761.7,872.3 L1767.6,880.1 L1774.1,876.2 L1780.7,875.5 L1785.9,876.8 L1791.1,878.8 L1799.0,874.9 L1805.5,878.8 L1812.1,882.1 L1818.6,884.0 L1825.2,881.4 L1830.0,880.1 L1833.7,881.7 L1840.1,878.5 L1845.8,878.7 L1850.6,881.3 L1855.4,882.9 L1859.5,888.2 L1863.5,886.6 L1869.9,886.2 L1874.8,882.5 L1879.6,876.5 L1883.6,875.7 L1888.4,876.5 L1896.5,876.3 L1900.5,877.3 L1904.5,882.1 L1909.4,883.3 L1914.2,886.6 L1919.0,883.7 L1924.7,882.5 L1929.5,882.9 L1934.3,880.5 L1939.2,880.9 L1942.8,880.9"/>
<path class="main" d="M313.5,1153.7 L317.0,1155.2 L322.2,1157.8 L327.5,1160.1 L332.7,1166.3 L337.9,1169.5 L344.5,1168.9 L349.7,1163.0 L356.3,1158.0 L361.5,1158.8 L366.7,1156.2 L372.0,1157.8 L377.2,1157.1 L382.4,1157.8 L389.0,1156.5 L395.5,1154.9 L402.1,1152.5 L409.3,1150.2 L415.2,1151.2 L420.4,1155.2 L425.6,1158.8 L432.2,1159.7 L437.4,1164.1 L443.3,1166.7 L447.9,1165.0 L453.1,1161.0 L459.6,1157.8 L464.9,1156.5 L470.1,1151.9 L472.7,1151.0 L478.0,1153.6 L483.2,1152.8 L489.7,1150.2 L496.3,1149.9 L504.1,1151.0 L509.4,1147.3 L514.6,1147.3 L519.8,1150.2 L526.4,1151.2 L531.6,1153.8 L538.2,1154.1 L542.1,1154.9 L547.3,1151.9 L552.6,1150.6 L557.1,1144.7 L560.0,1141.4 L566.5,1136.1 L574.4,1136.1 L581.6,1134.5 L586.2,1141.3 L591.4,1143.3 L597.9,1147.9 L604.5,1145.9 L612.3,1143.9 L618.9,1138.1 L624.1,1136.7 L630.7,1128.9 L637.2,1126.7 L645.1,1125.0 L651.6,1117.8 L656.8,1111.2 L663.4,1108.9 L669.9,1100.8 L675.2,1093.6 L679.7,1087.0 L685.6,1087.0 L692.2,1079.8 L696.1,1076.6 L700.7,1071.3 L707.9,1072.6 L713.1,1069.4 L716.4,1062.8 L722.3,1058.9 L726.2,1055.6 L734.0,1055.0 L740.6,1052.3 L748.4,1051.7 L755.0,1052.3 L762.8,1051.3 L770.7,1047.8 L777.2,1050.4 L782.5,1053.7 L789.0,1051.7 L794.2,1055.6 L800.8,1058.9 L808.6,1060.2 L812.6,1062.8 L816.5,1070.7 L820.0,1076.6 L825.2,1081.8 L831.8,1085.1 L837.0,1085.7 L842.2,1088.7 L847.5,1089.0 L850.1,1087.4 L856.6,1089.0 L864.5,1096.2 L869.7,1097.5 L873.7,1104.0 L877.6,1106.0 L882.8,1111.0 L886.7,1110.6 L890.7,1108.0 L894.6,1109.9 L901.1,1117.1 L906.4,1117.8 L911.6,1118.4 L916.8,1124.3 L920.1,1130.2 L922.1,1131.5 L924.7,1128.9 L931.2,1128.2 L936.5,1124.3 L944.3,1123.7 L949.5,1121.0 L954.8,1118.4 L961.3,1117.1 L966.6,1117.8 L970.5,1120.4 L975.7,1118.4 L983.6,1117.1 L987.5,1121.0 L991.4,1123.7 L996.7,1123.7 L1001.9,1121.7 L1008.4,1123.0 L1013.7,1121.7 L1018.9,1117.8 L1025.4,1115.2 L1030.7,1113.8 L1035.9,1111.9 L1042.5,1112.5 L1047.7,1113.2 L1052.9,1111.9 L1059.5,1114.5 L1067.3,1115.2 L1075.2,1111.9 L1080.0,1113.2 L1086.5,1114.5 L1091.8,1112.5 L1097.0,1113.2 L1100.9,1109.7 L1104.9,1108.9 L1108.8,1113.8 L1114.0,1112.8 L1119.3,1113.6 L1125.1,1109.9 L1129.7,1111.5 L1132.3,1114.9 L1138.9,1112.8 L1144.1,1114.1 L1149.4,1116.2 L1154.6,1117.8 L1159.8,1116.5 L1165.1,1117.8 L1169.6,1120.1 L1174.2,1117.8 L1180.1,1111.9 L1184.7,1114.5 L1191.2,1118.4 L1197.8,1121.4 L1203.0,1121.7 L1206.9,1125.0 L1210.2,1126.9 L1216.1,1123.7 L1220.0,1119.7 L1223.3,1115.8 L1229.2,1115.8 L1234.4,1114.5 L1239.6,1113.6 L1244.9,1114.5 L1250.1,1115.2 L1253.4,1118.4 L1258.0,1117.1 L1263.2,1115.4 L1268.4,1117.8 L1273.7,1115.2 L1278.9,1114.9 L1284.1,1114.5 L1289.4,1110.6 L1294.6,1109.7 L1299.8,1108.0 L1305.1,1109.7 L1309.0,1111.0 L1314.2,1110.2 L1320.8,1115.8 L1326.0,1115.4 L1331.2,1115.2 L1335.2,1117.1 L1340.0,1118.4 L1345.9,1119.3 L1350.5,1115.2 L1355.7,1113.2 L1362.2,1111.9 L1369.4,1107.3 L1375.3,1108.9 L1381.9,1112.5 L1388.4,1113.6 L1393.7,1116.5 L1398.9,1118.4 L1405.4,1118.4 L1410.7,1116.5 L1418.5,1116.2 L1423.7,1113.2 L1428.3,1111.0 L1432.3,1113.6 L1436.8,1111.9 L1443.4,1113.2 L1448.6,1114.9 L1453.8,1119.1 L1459.1,1124.3 L1462.4,1119.7 L1466.9,1121.0 L1473.5,1118.4 L1478.7,1115.2 L1483.9,1110.6 L1490.5,1105.3 L1495.7,1105.7 L1501.0,1104.7 L1506.2,1099.7 L1510.1,1097.1 L1515.3,1102.1 L1520.6,1103.6 L1525.2,1104.4 L1531.0,1101.8 L1536.3,1103.4 L1541.5,1106.0 L1544.8,1102.7 L1549.4,1103.4 L1554.6,1102.7 L1559.8,1100.8 L1566.4,1100.5 L1571.6,1100.1 L1576.8,1101.4 L1582.1,1101.4 L1587.3,1105.3 L1592.6,1106.6 L1600.0,1104.7 L1606.5,1104.5 L1611.8,1101.5 L1618.3,1099.5 L1623.6,1098.9 L1627.5,1096.3 L1631.4,1099.5 L1636.6,1098.2 L1641.9,1098.9 L1645.1,1096.3 L1647.8,1091.7 L1653.7,1093.0 L1657.6,1097.6 L1662.8,1098.9 L1668.0,1100.2 L1673.3,1099.5 L1679.8,1102.2 L1683.7,1096.3 L1690.3,1093.7 L1695.5,1092.4 L1700.8,1087.1 L1708.6,1086.9 L1717.8,1086.5 L1723.0,1080.6 L1728.2,1079.3 L1733.5,1078.9 L1738.7,1076.0 L1743.9,1075.7 L1750.5,1076.6 L1755.7,1079.9 L1762.3,1078.9 L1767.5,1081.2 L1774.0,1087.8 L1780.6,1087.1 L1787.1,1086.5 L1795.0,1085.2 L1800.2,1081.2 L1804.1,1078.0 L1810.7,1077.0 L1817.2,1076.3 L1822.5,1072.7 L1829.0,1072.1 L1834.2,1072.7 L1839.5,1070.8 L1846.0,1070.8 L1851.2,1072.7 L1854.5,1078.0 L1860.0,1079.7 L1861.9,1079.3 L1865.1,1076.9 L1869.1,1076.9 L1873.1,1077.3 L1878.0,1074.1 L1882.0,1071.7 L1886.8,1066.0 L1890.9,1065.2 L1897.3,1065.1 L1901.3,1064.0 L1904.5,1062.0 L1911.0,1061.2 L1916.6,1062.4 L1922.3,1061.6 L1927.1,1059.6 L1931.9,1058.0 L1935.9,1058.1 L1940.0,1059.6"/>
<text id="y12" class="t83" transform="matrix(0.9870 0 0 1.0260 174.89 140.39)" x="0" y="0"><tspan>1</tspan><tspan dx="-2.23">.2</tspan></text>
<text id="y09" class="t83" transform="matrix(0.9954 0 0 1.0271 172.26 397.28)" x="0" y="0">0.9</text>
<text id="y06" class="t83" transform="matrix(0.9870 0 0 1.0242 172.54 655.28)" x="0" y="0">0.6</text>
<text id="y03" class="t83" transform="matrix(0.9908 0 0 1.0256 172.28 913.28)" x="0" y="0">0.3</text>
<text id="y00" class="t83" transform="matrix(0.9870 0 0 1.0242 172.54 1171.28)" x="0" y="0">0.0</text>
<text id="x1900" class="t83" transform="matrix(1.0066 0 0 1.0185 553.97 1323.90)" x="0" y="0"><tspan>1</tspan><tspan dx="-5.50">900</tspan></text>
<text id="x2000" class="t83" transform="matrix(1.0066 0 0 1.0185 987.72 1323.90)" x="0" y="0">2000</text>
<text id="x2100" class="t83" transform="matrix(1.0108 0 0 1.0185 1426.82 1323.90)" x="0" y="0"><tspan>2</tspan><tspan dx="5.44">1</tspan><tspan dx="-5.47">00</tspan></text>
<text id="xt" class="t83" transform="matrix(1.0090 0 0 1.0200 763.88 1452.70)" x="0" y="0"><tspan>Wavenumber</tspan><tspan dx="-2.38"> [cm</tspan><tspan dx="0.50" dy="-24.33" font-size="56.5">–1</tspan><tspan dy="24.33">]</tspan></text>
<text id="yt" class="t83" transform="matrix(0 -0.9965 1.0000 0 80.00 967.00)" x="0" y="0">Absorption [arb. u.]</text>
<text id="i10" class="t37" transform="matrix(0.9847 0 0 1.0189 407.36 186.75)" x="0" y="0"><tspan>1</tspan><tspan dx="-1.08">.0</tspan></text>
<text id="i08" class="t37" transform="matrix(0.9847 0 0 1.0315 406.27 386.83)" x="0" y="0">0.8</text>
<text id="i200" class="t37" transform="matrix(1.0000 0 0 1.0158 548.08 514.91)" x="0" y="0">200</text>
<text id="i400" class="t37" transform="matrix(0.9876 0 0 1.0189 772.93 514.91)" x="0" y="0">400</text>
<text id="i600" class="t37" transform="matrix(0.9972 0 0 1.0221 996.01 514.58)" x="0" y="0">600</text>
<text id="i353" class="t37" transform="matrix(0.9790 0 0 1.0189 772.61 93.00)" x="0" y="0">353</text>
<text id="i374" class="t37" transform="matrix(0.9667 0 0 1.0315 723.30 267.91)" x="0" y="0">374</text>
<text id="i2p" class="t37" transform="matrix(0.9899 0 0 1.0160 678.19 182.97)" x="0" y="0">2'</text>
<text id="i1p" class="t37 it" transform="matrix(1.0000 0 0 1.0200 729.50 375.97)" x="0" y="0">1'</text>
<text id="iT" class="t37" transform="matrix(0.9807 0 0 1.0200 743.48 555.30)" x="0" y="0"><tspan class="it">T</tspan>, K</text>
<text id="iA" class="t37" transform="matrix(0 -0.9690 1.0300 0 398.20 289.40)" x="0" y="0"><tspan class="it">A</tspan>, a.u</text>
<text id="p2056" class="t48" transform="matrix(1.0063 0 0 0.9813 1394.48 107.00)" x="0" y="0">2056</text>
<text id="p1905" class="t48" transform="matrix(1.0063 0 0 0.9954 726.95 705.00)" x="0" y="0"><tspan>1</tspan><tspan dx="-2.62">905</tspan></text>
<text id="p1925" class="t48" transform="matrix(1.0063 0 0 0.9954 706.95 1022.50)" x="0" y="0"><tspan>1</tspan><tspan dx="-2.62">925</tspan></text>
<text id="l1" class="t52" transform="matrix(0.9520 0 0 1.0317 1774.44 591.70)" x="0" y="0">1</text>
<text id="l2" class="t52" transform="matrix(0.9520 0 0 1.0089 1791.40 856.98)" x="0" y="0">2</text>
<text id="l3" class="t52" transform="matrix(1.0179 0 0 0.9848 1790.64 1055.26)" x="0" y="0">3</text>
</svg>
</body></html>
